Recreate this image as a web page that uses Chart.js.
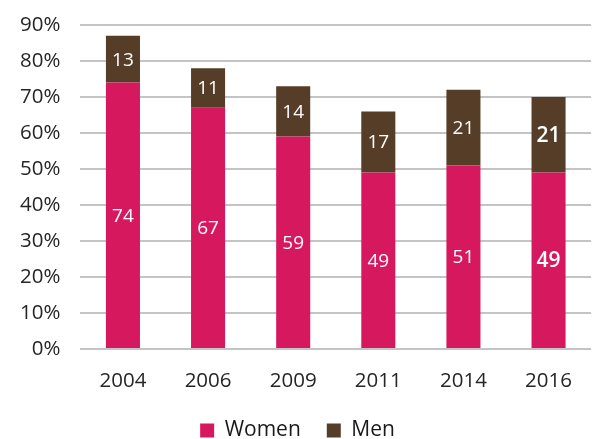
<!DOCTYPE html>
<html>
<head>
<meta charset="utf-8">
<script src="https://cdn.jsdelivr.net/npm/chart.js@4"></script>
<style>
  html, body { margin: 0; padding: 0; background: #fff; }
  #wrap { width: 592px; height: 439px; position: relative; }
</style>
</head>
<body>
<div id="wrap"><canvas id="c" width="592" height="439"></canvas></div>
<script>
const categories = ['2004', '2006', '2009', '2011', '2014', '2016'];
const women = [74, 67, 59, 49, 51, 49];
const men = [13, 11, 14, 17, 21, 21];
const yTicks = [0, 10, 20, 30, 40, 50, 60, 70, 80, 90];

const FONT = "'Open Sans', 'Noto Sans', sans-serif";

const valueLabels = {
  id: 'valueLabels',
  afterDatasetsDraw(chart, args, opts) {
    const ctx = chart.ctx;
    ctx.save();
    ctx.textAlign = 'center';
    ctx.textBaseline = 'middle';
    ctx.fillStyle = '#ffffff';
    chart.data.datasets.forEach((ds, di) => {
      const meta = chart.getDatasetMeta(di);
      meta.data.forEach((bar, i) => {
        const p = bar.getProps(['x', 'y', 'base'], true);
        const cy = (p.y + p.base) / 2;
        const big = opts.emphasize.includes(i);
        ctx.font = (big ? '600 21px ' : '19px ') + FONT;
        ctx.fillText(String(ds.data[i]), p.x, cy + 1);
      });
    });
    ctx.restore();
  }
};

new Chart(document.getElementById('c'), {
  type: 'bar',
  data: {
    labels: categories,
    datasets: [
      { label: 'Women', data: women, backgroundColor: '#D6195F', barPercentage: 0.4, categoryPercentage: 1.0 },
      { label: 'Men', data: men, backgroundColor: '#553D27', barPercentage: 0.4, categoryPercentage: 1.0 }
    ]
  },
  options: {
    responsive: false,
    animation: false,
    layout: { padding: { top: 25, right: -3, left: 0, bottom: -12 } },
    scales: {
      x: {
        stacked: true,
        grid: { display: false, drawTicks: false },
        border: { display: false },
        afterFit(axis) { axis.height = 45; },
        ticks: { font: { family: FONT, size: 20.5 }, color: '#262626', padding: 20 }
      },
      y: {
        stacked: true,
        min: 0,
        max: 90,
        afterBuildTicks(axis) { axis.ticks = yTicks.map(v => ({ value: v })); },
        afterFit(axis) { axis.paddingTop = 0; axis.paddingBottom = 0; },
        grid: { color: '#C4C4C4', lineWidth: 2, drawTicks: false },
        border: { display: false },
        ticks: {
          font: { family: FONT, size: 20.5 },
          color: '#262626',
          padding: 20,
          callback: v => v + '%'
        }
      }
    },
    plugins: {
      legend: {
        position: 'bottom',
        labels: {
          font: { family: FONT, size: 21 },
          color: '#1a1a1a',
          boxWidth: 14,
          boxHeight: 14,
          padding: 26
        }
      },
      tooltip: { enabled: false },
      valueLabels: { emphasize: [5] }
    }
  },
  plugins: [valueLabels]
});
</script>
</body>
</html>
